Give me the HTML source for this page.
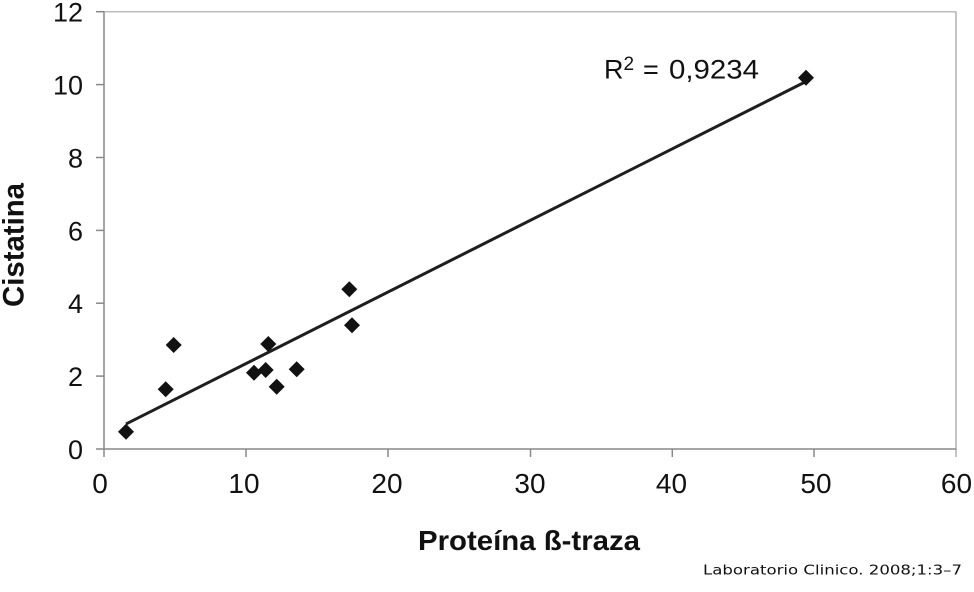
<!DOCTYPE html>
<html>
<head>
<meta charset="utf-8">
<style>
  html,body{margin:0;padding:0;background:#fff;}
  svg{display:block;}
  text{font-family:"Liberation Sans",Arial,sans-serif;fill:#111;}
</style>
</head>
<body>
<svg width="974" height="592" viewBox="0 0 974 592" xmlns="http://www.w3.org/2000/svg">
  <rect width="974" height="592" fill="#fff"/>
  <!-- plot border top/right -->
  <line x1="104" y1="11.7" x2="956" y2="11.7" stroke="#bdbdbd" stroke-width="1.5"/>
  <line x1="956" y1="11.7" x2="956" y2="457" stroke="#b0b0b0" stroke-width="1.5"/>
  <!-- axes -->
  <line x1="104" y1="11.7" x2="104" y2="457" stroke="#888" stroke-width="1.5"/>
  <line x1="96" y1="449" x2="956" y2="449" stroke="#888" stroke-width="1.5"/>
  <!-- ticks -->
  <g stroke="#888" stroke-width="1.5">
    <line x1="96" y1="11.7" x2="104" y2="11.7"/>
    <line x1="96" y1="84.6" x2="104" y2="84.6"/>
    <line x1="96" y1="157.5" x2="104" y2="157.5"/>
    <line x1="96" y1="230.4" x2="104" y2="230.4"/>
    <line x1="96" y1="303.2" x2="104" y2="303.2"/>
    <line x1="96" y1="376.1" x2="104" y2="376.1"/>
    <line x1="246" y1="449" x2="246" y2="457"/>
    <line x1="388" y1="449" x2="388" y2="457"/>
    <line x1="530.5" y1="449" x2="530.5" y2="457"/>
    <line x1="672.3" y1="449" x2="672.3" y2="457"/>
    <line x1="814" y1="449" x2="814" y2="457"/>
  </g>
  <!-- y tick labels -->
  <g font-size="27" text-anchor="end">
    <text x="83" y="21.7">12</text>
    <text x="83" y="94.6">10</text>
    <text x="83" y="167.5">8</text>
    <text x="83" y="240.4">6</text>
    <text x="83" y="313.2">4</text>
    <text x="83" y="386.1">2</text>
    <text x="83" y="459">0</text>
  </g>
  <!-- x tick labels -->
  <g font-size="28" text-anchor="middle">
    <text x="100" y="493">0</text>
    <text x="244" y="493">10</text>
    <text x="387" y="493">20</text>
    <text x="530" y="493">30</text>
    <text x="671.5" y="493">40</text>
    <text x="816" y="493">50</text>
    <text x="956.5" y="493">60</text>
  </g>
  <!-- trend line -->
  <line x1="126" y1="424" x2="805" y2="82" stroke="#1e1e1e" stroke-width="3"/>
  <!-- data points -->
  <g fill="#111">
    <path d="M126,423.7 l8,8 l-8,8 l-8,-8z"/>
    <path d="M165.7,381.3 l8,8 l-8,8 l-8,-8z"/>
    <path d="M173.7,337 l8,8 l-8,8 l-8,-8z"/>
    <path d="M254,364.7 l8,8 l-8,8 l-8,-8z"/>
    <path d="M265.7,362 l8,8 l-8,8 l-8,-8z"/>
    <path d="M268.3,336 l8,8 l-8,8 l-8,-8z"/>
    <path d="M276.7,378.7 l8,8 l-8,8 l-8,-8z"/>
    <path d="M296.7,361.3 l8,8 l-8,8 l-8,-8z"/>
    <path d="M349.3,281.3 l8,8 l-8,8 l-8,-8z"/>
    <path d="M352,317.3 l8,8 l-8,8 l-8,-8z"/>
    <path d="M806,69.7 l8,8 l-8,8 l-8,-8z"/>
  </g>
  <!-- R^2 -->
  <text x="604" y="78.3" font-size="27">R</text>
  <text x="623.5" y="70" font-size="19">2</text>
  <text x="643" y="78.3" font-size="27">=</text>
  <text x="669" y="78.3" font-size="27" textLength="90" lengthAdjust="spacingAndGlyphs">0,9234</text>
  <!-- axis titles -->
  <text transform="translate(23.5,245) rotate(-90)" text-anchor="middle" font-size="30" font-weight="bold" textLength="124" lengthAdjust="spacingAndGlyphs">Cistatina</text>
  <text x="418" y="550" font-size="28" font-weight="bold" textLength="222" lengthAdjust="spacingAndGlyphs">Proteína ß-traza</text>
  <!-- footer -->
  <text x="703" y="574.3" font-size="13.5" style="font-family:'DejaVu Sans','Liberation Sans',sans-serif" textLength="259" lengthAdjust="spacingAndGlyphs">Laboratorio Clinico. 2008;1:3–7</text>
</svg>
</body>
</html>
